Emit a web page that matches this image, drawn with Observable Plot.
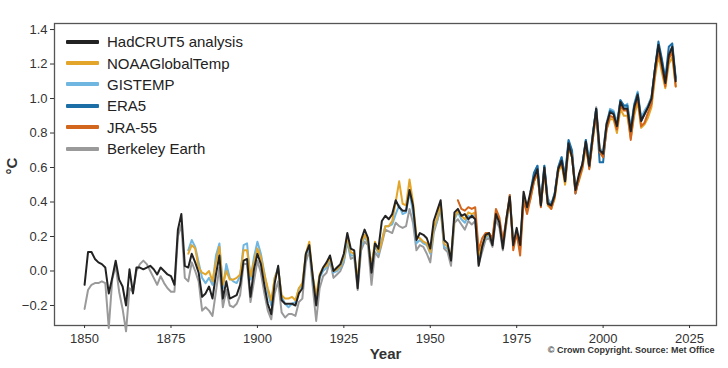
<!DOCTYPE html>
<html>
<head>
<meta charset="utf-8">
<script src="https://cdn.jsdelivr.net/npm/d3@7"></script>
<script src="https://cdn.jsdelivr.net/npm/@observablehq/plot@0.6"></script>
<style>
  body { margin: 0; background: #fff; font-family: "Liberation Sans", Arial, sans-serif; }
  #wrap { position: relative; width: 728px; height: 368px; }
  #legend { position: absolute; left: 66px; top: 31px; }
  .row { display: flex; align-items: center; height: 21.4px; font-size: 15px; color: #222; }
  .sw { width: 33px; height: 4px; margin-right: 8px; border-radius: 1px; }
</style>
</head>
<body>
<div id="wrap"><div id="chart"></div><div id="legend"></div></div>
<script>
// ---- data (°C anomaly vs 1850-1900) ----
const seriesNames = ["HadCRUT5 analysis", "NOAAGlobalTemp", "GISTEMP", "ERA5", "JRA-55", "Berkeley Earth"];
const seriesColors = ["#222222", "#e3a62b", "#6fb6e0", "#1b6ea6", "#d2661d", "#9a9a9a"];
const startYears = [1850, 1880, 1880, 1979, 1958, 1850];
const xTicks = [1850, 1875, 1900, 1925, 1950, 1975, 2000, 2025];
const yTicks = [-0.2, 0.0, 0.2, 0.4, 0.6, 0.8, 1.0, 1.2, 1.4];

const hadcrut5 = [
 -0.08,0.11,0.11,0.07,0.05,0.04,0.02,-0.13,-0.04,0.06,
 -0.05,-0.09,-0.20,0.01,-0.13,0.02,0.02,0.01,0.02,0.03,
 0.01,-0.02,0.02,0.00,-0.02,-0.03,-0.08,0.24,0.33,0.03,
 0.02,0.10,0.05,-0.01,-0.15,-0.13,-0.09,-0.16,-0.02,0.09,
 -0.16,-0.06,-0.16,-0.15,-0.14,-0.08,0.06,0.07,-0.15,0.01,
 0.10,0.04,-0.08,-0.19,-0.25,-0.07,0.03,-0.17,-0.19,-0.19,
 -0.19,-0.20,-0.13,-0.10,0.10,0.15,-0.03,-0.20,-0.03,0.02,
 0.05,0.09,0.00,0.02,0.04,0.10,0.22,0.13,0.12,-0.10,
 0.18,0.24,0.19,-0.01,0.16,0.13,0.29,0.32,0.30,0.33,
 0.41,0.37,0.35,0.35,0.47,0.38,0.18,0.22,0.21,0.19,
 0.13,0.29,0.35,0.41,0.18,0.16,0.06,0.34,0.36,0.32,
 0.33,0.30,0.32,0.30,0.03,0.14,0.21,0.22,0.15,0.33,
 0.28,0.13,0.30,0.43,0.15,0.25,0.15,0.46,0.37,0.46,
 0.54,0.59,0.38,0.60,0.39,0.38,0.44,0.59,0.64,0.52,
 0.74,0.66,0.47,0.56,0.62,0.75,0.61,0.78,0.94,0.70,
 0.68,0.85,0.92,0.91,0.84,0.98,0.94,0.94,0.81,0.95,
 1.02,0.87,0.91,0.95,1.00,1.17,1.31,1.20,1.09,1.25,
 1.30,1.10];

const noaaGlobalTemp = [
 0.10,0.15,0.13,0.02,-0.01,-0.02,0.00,-0.06,0.05,0.14,
 -0.08,0.00,-0.05,-0.05,-0.04,-0.02,0.12,0.12,-0.03,0.05,
 0.13,0.08,-0.02,-0.10,-0.17,-0.04,0.01,-0.14,-0.16,-0.16,
 -0.15,-0.17,-0.10,-0.07,0.10,0.17,-0.03,-0.14,-0.02,0.02,
 0.03,0.08,0.00,0.01,0.03,0.08,0.20,0.11,0.10,-0.05,
 0.16,0.21,0.17,0.03,0.17,0.11,0.17,0.26,0.26,0.29,
 0.40,0.52,0.39,0.38,0.53,0.40,0.20,0.19,0.17,0.16,
 0.11,0.25,0.31,0.39,0.16,0.14,0.08,0.31,0.35,0.32,
 0.30,0.34,0.33,0.34,0.09,0.15,0.20,0.22,0.18,0.34,
 0.29,0.16,0.28,0.43,0.16,0.22,0.14,0.43,0.36,0.42,
 0.52,0.56,0.38,0.57,0.38,0.36,0.42,0.57,0.62,0.50,
 0.71,0.66,0.48,0.52,0.59,0.72,0.60,0.76,0.91,0.69,
 0.66,0.82,0.88,0.88,0.80,0.94,0.90,0.90,0.77,0.90,
 0.98,0.83,0.85,0.89,0.95,1.12,1.25,1.15,1.06,1.20,
 1.24,1.07];

const gistemp = [
 0.12,0.18,0.14,0.05,-0.04,-0.07,-0.04,-0.08,0.09,0.16,
 -0.10,0.04,-0.04,-0.06,-0.07,-0.03,0.15,0.16,-0.05,0.08,
 0.17,0.10,-0.01,-0.12,-0.20,-0.04,0.02,-0.15,-0.19,-0.21,
 -0.19,-0.18,-0.10,-0.09,0.09,0.14,-0.05,-0.17,-0.04,0.00,
 0.02,0.07,-0.01,0.00,0.02,0.06,0.18,0.09,0.09,-0.07,
 0.14,0.20,0.16,0.02,0.15,0.10,0.18,0.26,0.26,0.27,
 0.33,0.38,0.33,0.34,0.46,0.34,0.16,0.18,0.16,0.15,
 0.10,0.24,0.29,0.38,0.14,0.13,0.08,0.30,0.34,0.30,
 0.28,0.32,0.31,0.33,0.07,0.14,0.19,0.21,0.18,0.34,
 0.29,0.17,0.28,0.44,0.17,0.21,0.15,0.44,0.37,0.44,
 0.56,0.61,0.39,0.61,0.42,0.39,0.45,0.60,0.66,0.54,
 0.75,0.68,0.49,0.53,0.62,0.76,0.65,0.79,0.94,0.71,
 0.69,0.85,0.94,0.93,0.86,0.99,0.94,0.97,0.83,0.97,
 1.04,0.89,0.93,0.96,1.01,1.17,1.31,1.22,1.10,1.26,
 1.29,1.11];

const era5 = [
 0.46,0.57,0.61,0.39,0.61,0.40,0.38,0.45,0.60,0.66,
 0.55,0.76,0.70,0.45,0.54,0.61,0.76,0.60,0.79,0.94,
 0.63,0.63,0.84,0.93,0.92,0.83,0.99,0.96,0.96,0.80,
 0.96,1.03,0.87,0.91,0.95,1.00,1.17,1.33,1.23,1.11,
 1.30,1.32,1.12];

const jra55 = [
 0.41,0.36,0.35,0.37,0.36,0.37,0.12,0.19,0.22,0.22,
 0.19,0.36,0.31,0.17,0.30,0.44,0.12,0.22,0.09,0.41,
 0.33,0.42,0.52,0.57,0.37,0.59,0.39,0.36,0.43,0.59,
 0.63,0.52,0.72,0.67,0.45,0.53,0.60,0.74,0.59,0.76,
 0.92,0.69,0.66,0.82,0.90,0.89,0.82,0.96,0.93,0.93,
 0.76,0.93,1.01,0.84,0.86,0.92,0.97,1.14,1.28,1.18,
 1.07,1.23,1.27,1.07];

const berkeleyEarth = [
 -0.22,-0.11,-0.08,-0.07,-0.07,-0.06,-0.07,-0.33,-0.05,0.03,
 -0.12,-0.22,-0.35,-0.10,-0.12,0.00,0.04,0.06,0.04,0.00,
 -0.04,-0.08,-0.03,-0.07,-0.10,-0.12,-0.12,0.20,0.27,-0.04,
 -0.06,0.05,0.00,-0.06,-0.23,-0.21,-0.23,-0.26,-0.12,0.02,
 -0.21,-0.11,-0.20,-0.21,-0.19,-0.14,0.04,0.04,-0.18,-0.06,
 0.06,-0.01,-0.13,-0.23,-0.28,-0.13,-0.06,-0.24,-0.27,-0.25,
 -0.25,-0.26,-0.18,-0.16,0.05,0.12,-0.09,-0.29,-0.10,-0.03,
 -0.01,0.06,-0.04,-0.02,0.00,0.05,0.17,0.07,0.08,-0.11,
 0.12,0.17,0.15,-0.08,0.11,0.08,0.16,0.24,0.23,0.22,
 0.28,0.26,0.25,0.26,0.36,0.28,0.12,0.15,0.14,0.10,
 0.05,0.22,0.29,0.36,0.13,0.11,0.03,0.28,0.30,0.27,
 0.24,0.29,0.27,0.29,0.04,0.11,0.18,0.19,0.14,0.30,
 0.25,0.12,0.27,0.41,0.15,0.22,0.13,0.43,0.36,0.44,
 0.52,0.57,0.38,0.59,0.39,0.38,0.44,0.58,0.64,0.51,
 0.73,0.66,0.47,0.55,0.62,0.75,0.62,0.78,0.95,0.71,
 0.69,0.86,0.93,0.92,0.84,0.99,0.95,0.96,0.81,0.96,
 1.03,0.88,0.92,0.96,1.01,1.17,1.31,1.21,1.10,1.26,
 1.30,1.11];

const seriesValues = [hadcrut5, noaaGlobalTemp, gistemp, era5, jra55, berkeleyEarth];

// build long table
const rows = [];
seriesNames.forEach((name, s) => {
  seriesValues[s].forEach((v, i) => rows.push({series: name, year: startYears[s] + i, value: v}));
});

// draw order: Berkeley, GISTEMP, NOAA, ERA5, JRA-55, HadCRUT5 on top
const drawOrder = [5, 2, 1, 3, 4, 0];

const marks = [
  Plot.frame({stroke: "#555", strokeWidth: 1.3}),
  ...drawOrder.map(s => Plot.line(rows.filter(d => d.series === seriesNames[s]), {
    x: "year", y: "value", stroke: seriesColors[s], strokeWidth: 2, strokeLinejoin: "round"
  })),
  Plot.axisX({ticks: xTicks, tickFormat: "d", tickSize: 3, tickPadding: 5, fontSize: 13, label: null, color: "#333"}),
  Plot.axisY({ticks: yTicks, tickFormat: ".1f", tickSize: 4, tickPadding: 3, fontSize: 13, label: null, color: "#333"}),
  Plot.text(["Year"], {frameAnchor: "bottom", dy: 33, fontSize: 15, fontWeight: "bold", fill: "#333"}),
  Plot.text(["°C"], {frameAnchor: "left", dx: -42, rotate: -90, fontSize: 15, fontWeight: "bold", fill: "#333"}),
  Plot.text(["© Crown Copyright. Source: Met Office"], {frameAnchor: "bottom-right", textAnchor: "end", dy: 27, dx: -2, fontSize: 9, fontWeight: "bold", fill: "#333"})
];

const chart = Plot.plot({
  width: 728,
  height: 368,
  marginLeft: 54,
  marginRight: 12,
  marginTop: 23,
  marginBottom: 43,
  style: {fontFamily: "'Liberation Sans', Arial, sans-serif", fontSize: "13px", color: "#333", background: "#fff"},
  x: {domain: [1841.3, 2032.8]},
  y: {domain: [-0.316, 1.435]},
  marks
});
document.getElementById("chart").appendChild(chart);

// legend
const legend = document.getElementById("legend");
seriesNames.forEach((name, s) => {
  const row = document.createElement("div");
  row.className = "row";
  const sw = document.createElement("div");
  sw.className = "sw";
  sw.style.background = seriesColors[s];
  const t = document.createElement("span");
  t.textContent = name;
  row.appendChild(sw); row.appendChild(t);
  legend.appendChild(row);
});
</script>
</body>
</html>
